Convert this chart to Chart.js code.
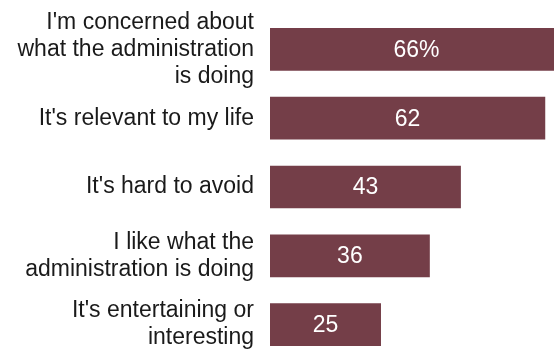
<!DOCTYPE html>
<html>
<head>
<meta charset="utf-8">
<script src="https://cdn.jsdelivr.net/npm/chart.js@4/dist/chart.umd.min.js"></script>
<style>
    html, body { margin: 0; padding: 0; background: #fff; }
    #wrap { width: 554px; height: 350px; overflow: hidden; position: relative; }
    #chart { display: block; }
</style>
</head>
<body>
<div id="wrap">
    <canvas id="chart" width="563" height="360"></canvas>
</div>
<script>
var reasons = [
    ["I'm concerned about", "what the administration", "is doing"],
    "It's relevant to my life",
    "It's hard to avoid",
    ["I like what the", "administration is doing"],
    ["It's entertaining or", "interesting"]
]
var shares = [66, 62, 43, 36, 25]

var barColor = '#743e48'
var fontFamily = "'Liberation Sans', Arial, sans-serif"

function value_text(v, i) {
    // only the top bar carries the percent sign
    return i == 0 ? v + '%' : String(v)
}

// draw each value in white, centred on its bar
var barValues = {
    id: 'barValues',
    afterDatasetsDraw: function(chart) {
        var ctx = chart.ctx
        var meta = chart.getDatasetMeta(0)
        ctx.save()
        ctx.fillStyle = '#ffffff'
        ctx.font = '23px ' + fontFamily
        ctx.textAlign = 'center'
        ctx.textBaseline = 'middle'
        meta.data.forEach(function(bar, i) {
            var x = (bar.base + bar.x) / 2
            ctx.fillText(value_text(shares[i], i), x, bar.y + 1)
        })
        ctx.restore()
    }
}

new Chart(document.getElementById('chart'), {
    type: 'bar',
    data: {
        labels: reasons,
        datasets: [{
            data: shares,
            backgroundColor: barColor,
            borderWidth: 0,
            categoryPercentage: 1,
            barPercentage: 0.62
        }]
    },
    options: {
        indexAxis: 'y',
        responsive: false,
        animation: false,
        layout: { padding: { top: 15, bottom: 1, left: 0, right: 0 } },
        plugins: {
            legend: { display: false },
            tooltip: { enabled: false }
        },
        scales: {
            x: {
                min: 0,
                max: 66,
                display: false
            },
            y: {
                grid: { display: false, drawTicks: false },
                border: { display: false },
                ticks: {
                    autoSkip: false,
                    color: '#1a1a1a',
                    padding: 16,
                    font: { family: fontFamily, size: 23, lineHeight: 1.17 }
                },
                afterFit: function(scale) {
                    // fixed label column, and no extra room for the tall first/last labels
                    scale.width = 270
                    scale.paddingTop = 0
                    scale.paddingBottom = 0
                }
            }
        }
    },
    plugins: [barValues]
})
</script>
</body>
</html>
